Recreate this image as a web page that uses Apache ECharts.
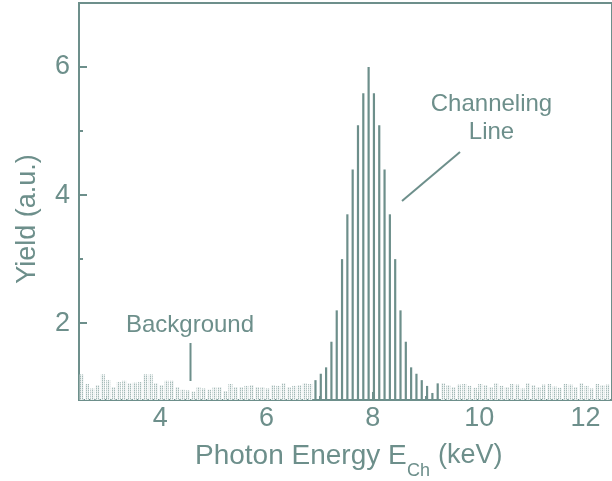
<!DOCTYPE html>
<html>
<head>
<meta charset="utf-8">
<script src="https://cdn.jsdelivr.net/npm/echarts@6/dist/echarts.min.js"></script>
<style>
  html, body { margin: 0; padding: 0; background: #fff; }
  #chart { width: 612px; height: 481px; }
</style>
</head>
<body>
<div id="chart"></div>
<script>
// Spectrum channels (keV) and yields (a.u.)
const bgLowEnergy = [2.52, 2.62, 2.72, 2.82, 2.92, 3.02, 3.12, 3.22, 3.32, 3.42,
                     3.52, 3.62, 3.72, 3.82, 3.92, 4.02, 4.12, 4.22, 4.32, 4.42,
                     4.52, 4.62, 4.72, 4.82, 4.92, 5.02, 5.12, 5.22, 5.32, 5.42,
                     5.52, 5.62, 5.72, 5.82, 5.92, 6.02, 6.12, 6.22, 6.32, 6.42,
                     6.52, 6.62, 6.72, 6.82];
const bgLowYield = [1.20, 1.05, 0.98, 1.03, 1.20, 1.11, 1.00, 1.08, 1.10, 1.06,
                    1.07, 1.08, 1.20, 1.20, 1.06, 1.03, 1.10, 1.10, 1.00, 0.96,
                    0.95, 0.93, 1.00, 0.98, 0.96, 1.00, 1.00, 0.94, 1.05, 1.00,
                    1.00, 1.02, 1.03, 1.00, 1.00, 0.98, 1.03, 1.02, 1.06, 1.00,
                    1.02, 1.03, 1.06, 1.05];

const lineEnergy = [6.92, 7.02, 7.12, 7.22, 7.32, 7.42, 7.52, 7.62, 7.72, 7.82,
                    7.92, 8.02, 8.12, 8.22, 8.32, 8.42, 8.52, 8.62, 8.72, 8.82,
                    8.92, 9.02, 9.12, 9.22];
const lineYield = [1.11, 1.21, 1.31, 1.71, 2.20, 3.00, 3.70, 4.40, 5.09, 5.59,
                   6.00, 5.59, 5.09, 4.40, 3.70, 3.00, 2.20, 1.71, 1.31, 1.21,
                   1.11, 1.02, 0.91, 1.06];

const bgHighEnergy = [9.32, 9.42, 9.52, 9.62, 9.72, 9.82, 9.92, 10.02, 10.12, 10.22,
                      10.32, 10.42, 10.52, 10.62, 10.72, 10.82, 10.92, 11.02, 11.12, 11.22,
                      11.32, 11.42, 11.52, 11.62, 11.72, 11.82, 11.92, 12.02, 12.12, 12.22,
                      12.32, 12.42];
const bgHighYield = [1.06, 1.03, 1.00, 1.04, 1.05, 1.02, 0.99, 1.05, 1.03, 1.00,
                     1.06, 1.02, 1.00, 1.05, 1.04, 0.98, 1.06, 1.03, 1.00, 1.04,
                     1.05, 1.01, 0.99, 1.05, 1.04, 1.00, 1.06, 1.02, 0.98, 1.05,
                     1.03, 1.04];

const xMajorTicks = [4, 6, 8, 10, 12];
const xMinorTicks = [3, 5, 7, 9, 11];
const yMajorTicks = [2, 4, 6];
const yMinorTicks = [3, 5];

const INK = '#6d8f8b';
const FONT = '"Liberation Sans", Arial, sans-serif';

const pairs = (xs, ys) => xs.map((x, i) => [x, ys[i]]);

// Dotted fill used for the background channels
function dotPattern() {
  const c = document.createElement('canvas');
  c.width = 2; c.height = 2;
  const g = c.getContext('2d');
  g.fillStyle = '#ffffff'; g.fillRect(0, 0, 2, 2);
  g.fillStyle = '#a3b9b6'; g.fillRect(0, 0, 1, 1);
  g.fillStyle = '#d6e0df'; g.fillRect(0, 1, 1, 1);
  g.fillStyle = '#f3f6f6'; g.fillRect(1, 0, 1, 2);
  return { image: c, repeat: 'repeat' };
}

const chart = echarts.init(document.getElementById('chart'), null, { renderer: 'canvas' });

const xBase = { type: 'value', min: 2.47, max: 12.5, position: 'bottom', splitLine: { show: false } };
const yBase = { type: 'value', min: 0.8, max: 7, position: 'left', splitLine: { show: false } };

chart.setOption({
  animation: false,
  backgroundColor: '#ffffff',
  grid: {
    show: true, left: 79, right: -4, top: 3, bottom: 81,
    borderColor: INK, borderWidth: 2, backgroundColor: 'transparent'
  },
  xAxis: [
    Object.assign({}, xBase, {
      axisLine: { show: true, onZero: false, lineStyle: { color: INK, width: 2 } },
      axisTick: { show: true, inside: true, length: 8, customValues: xMajorTicks, lineStyle: { color: INK, width: 2 } },
      axisLabel: { show: true, customValues: xMajorTicks, color: INK, fontSize: 27, fontFamily: FONT, margin: 5 }
    }),
    Object.assign({}, xBase, {
      axisLine: { show: false, onZero: false },
      axisTick: { show: true, inside: true, length: 4, customValues: xMinorTicks, lineStyle: { color: INK, width: 2 } },
      axisLabel: { show: false }
    })
  ],
  yAxis: [
    Object.assign({}, yBase, {
      axisLine: { show: true, onZero: false, lineStyle: { color: INK, width: 2 } },
      axisTick: { show: true, inside: true, length: 8, customValues: yMajorTicks, lineStyle: { color: INK, width: 2 } },
      axisLabel: { show: true, customValues: yMajorTicks, color: INK, fontSize: 27, fontFamily: FONT, margin: 9 }
    }),
    Object.assign({}, yBase, {
      axisLine: { show: false, onZero: false },
      axisTick: { show: true, inside: true, length: 4, customValues: yMinorTicks, lineStyle: { color: INK, width: 2 } },
      axisLabel: { show: false }
    })
  ],
  series: [
    {
      name: 'Background', type: 'bar', xAxisIndex: 1, yAxisIndex: 0,
      barWidth: 4, itemStyle: { color: dotPattern() },
      data: pairs(bgLowEnergy, bgLowYield).concat(pairs(bgHighEnergy, bgHighYield))
    },
    {
      name: 'Channeling Line', type: 'bar', xAxisIndex: 0, yAxisIndex: 0,
      barWidth: 2.2, itemStyle: { color: INK },
      data: pairs(lineEnergy, lineYield)
    }
  ],
  graphic: [
    { type: 'text', x: 27.5, y: 219, rotation: Math.PI / 2,
      style: { text: 'Yield (a.u.)', fill: INK, fontSize: 27, fontFamily: FONT, align: 'center', verticalAlign: 'middle' } },
    { type: 'text', x: 195, y: 456,
      style: { text: 'Photon Energy E', fill: INK, fontSize: 28, fontFamily: FONT, align: 'left', verticalAlign: 'middle' } },
    { type: 'text', x: 407, y: 471,
      style: { text: 'Ch', fill: INK, fontSize: 18, fontFamily: FONT, align: 'left', verticalAlign: 'middle' } },
    { type: 'text', x: 438, y: 456,
      style: { text: '(keV)', fill: INK, fontSize: 27, fontFamily: FONT, align: 'left', verticalAlign: 'middle' } },
    { type: 'text', x: 491.5, y: 104,
      style: { text: 'Channeling', fill: INK, fontSize: 24, fontFamily: FONT, align: 'center', verticalAlign: 'middle' } },
    { type: 'text', x: 491.5, y: 132,
      style: { text: 'Line', fill: INK, fontSize: 24, fontFamily: FONT, align: 'center', verticalAlign: 'middle' } },
    { type: 'line', shape: { x1: 402, y1: 201, x2: 460, y2: 152 },
      style: { stroke: INK, lineWidth: 2 } },
    { type: 'text', x: 190, y: 325,
      style: { text: 'Background', fill: INK, fontSize: 24, fontFamily: FONT, align: 'center', verticalAlign: 'middle' } },
    { type: 'line', shape: { x1: 190.5, y1: 343, x2: 190.5, y2: 381 },
      style: { stroke: INK, lineWidth: 2 } }
  ]
});
</script>
</body>
</html>
